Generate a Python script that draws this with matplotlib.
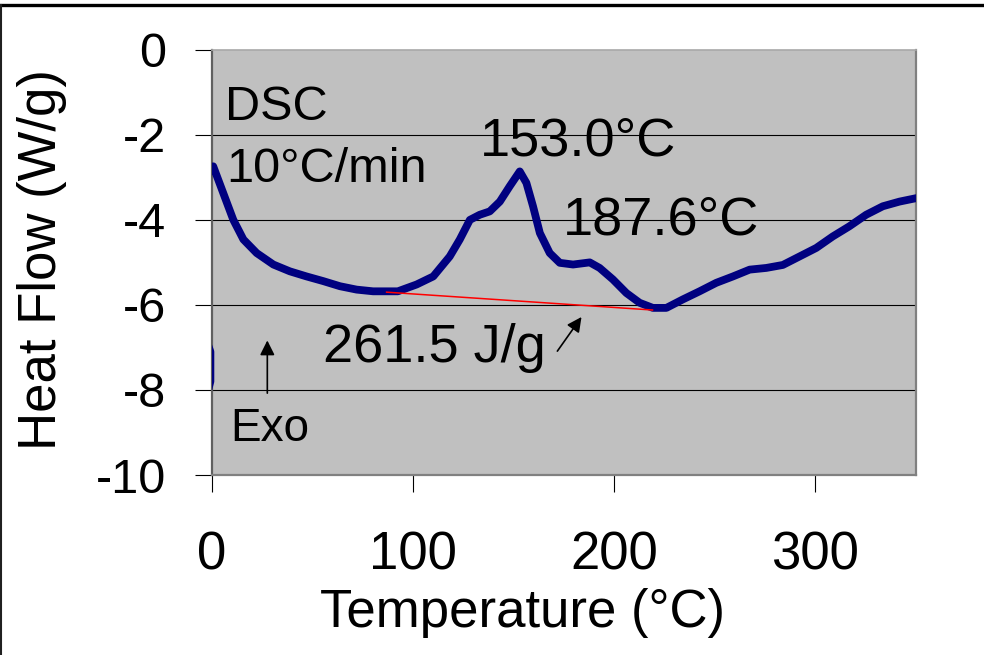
import matplotlib.pyplot as plt
from matplotlib.lines import Line2D

# DSC trace (first few points sit just left of 0 and are clipped)
temp = [-3.0, -0.8, -0.8, -3.0, -3.0, 0.6, 5.6, 10.6, 15.6, 22.2, 30.5, 38.7, 47.0, 55.3,
        63.6, 71.9, 80.1, 92.4, 101.7, 110.0, 118.2, 123.2, 128.2, 133.1, 138.1, 143.1,
        148.0, 153.0, 156.3, 159.6, 163.0, 167.9, 172.9, 179.5, 187.8, 192.7, 199.3,
        206.0, 212.6, 219.2, 225.9, 234.1, 242.4, 250.7, 259.0, 267.3, 275.6, 283.8,
        292.1, 300.4, 308.6, 316.9, 325.2, 333.5, 341.8, 350.0, 353.0]
heat_flow = [-8.2, -7.8, -7.1, -6.8, -3.0, -2.74, -3.37, -4.0, -4.46, -4.78, -5.05, -5.21,
             -5.33, -5.44, -5.56, -5.64, -5.68, -5.68, -5.52, -5.33, -4.86, -4.46, -4.0,
             -3.88, -3.8, -3.57, -3.21, -2.86, -3.13, -3.68, -4.31, -4.78, -5.01, -5.05,
             -5.0, -5.13, -5.40, -5.72, -5.95, -6.07, -6.07, -5.87, -5.68, -5.48, -5.33,
             -5.17, -5.13, -5.06, -4.86, -4.66, -4.39, -4.15, -3.88, -3.68, -3.57, -3.49,
             -3.47]

# integration baseline
base_temp = [86.8, 219.0]
base_flow = [-5.70, -6.12]

x_ticks = [0, 100, 200, 300]
y_ticks = [0, -2, -4, -6, -8, -10]

plt.rcParams['font.family'] = ['Liberation Sans', 'DejaVu Sans']

fig = plt.figure(figsize=(9.84, 6.55), dpi=100)
ax = fig.add_axes([212/984, 1 - 475/655, 704/984, 425.2/655])
ax.set_facecolor('#C0C0C0')

ax.plot(temp, heat_flow, color='#000080', lw=5.6, solid_joinstyle='round', zorder=3)
ax.plot(base_temp, base_flow, color='red', lw=1.1, zorder=4)

ax.set_xlim(0, 350)
ax.set_ylim(-10, 0)
ax.set_xticks(x_ticks)
ax.set_yticks(y_ticks)
ax.set_yticklabels([str(v) for v in y_ticks])

for v in [-2, -4, -6, -8]:
    ax.axhline(v, color='black', lw=0.8, zorder=1)

for s in ax.spines.values():
    s.set_color('#808080')
    s.set_linewidth(1.6)
ax.spines['top'].set_color('#A8A8A8')
ax.spines['top'].set_linewidth(1.2)
ax.spines['left'].set_color('#606060')

ax.tick_params(axis='both', direction='out', length=12, width=0.8, color='black')
ax.tick_params(axis='y', labelsize=35, pad=21)
ax.tick_params(axis='x', labelsize=38, pad=28)

fig.text(42/984, 1 - 260/655, 'Heat Flow (W/g)', rotation=90, ha='center', va='center',
         fontsize=38)
fig.text(523/984, 1 - 613/655, 'Temperature (°C)', ha='center', va='center', fontsize=38)

ax.text(6.5, -1.65, 'DSC', fontsize=35, va='baseline')
ax.text(7.3, -3.10, '10°C/min', fontsize=35, va='baseline')
ax.text(133.0, -2.49, '153.0°C', fontsize=39, va='baseline')
ax.text(174.5, -4.35, '187.6°C', fontsize=39, va='baseline')
ax.text(55.1, -7.35, '261.5 J/g', fontsize=39, va='baseline')
ax.text(8.9, -9.21, 'Exo', fontsize=33, va='baseline')

ax.annotate('', xy=(27.5, -6.77), xytext=(27.5, -8.14),
            arrowprops=dict(arrowstyle='-|>', color='black', lw=1.2, mutation_scale=22))
ax.annotate('', xy=(184.5, -6.23), xytext=(170.9, -7.14),
            arrowprops=dict(arrowstyle='-|>', color='black', lw=1.2, mutation_scale=22))

# outer frame (only top and left edges show in the picture)
fig.add_artist(Line2D([0, 1], [1 - 4.5/655, 1 - 4.5/655], color='black', lw=2.4))
fig.add_artist(Line2D([1/984, 1/984], [0, 1 - 4.5/655], color='#202020', lw=1.5))

fig.savefig('out.png', dpi=100)
